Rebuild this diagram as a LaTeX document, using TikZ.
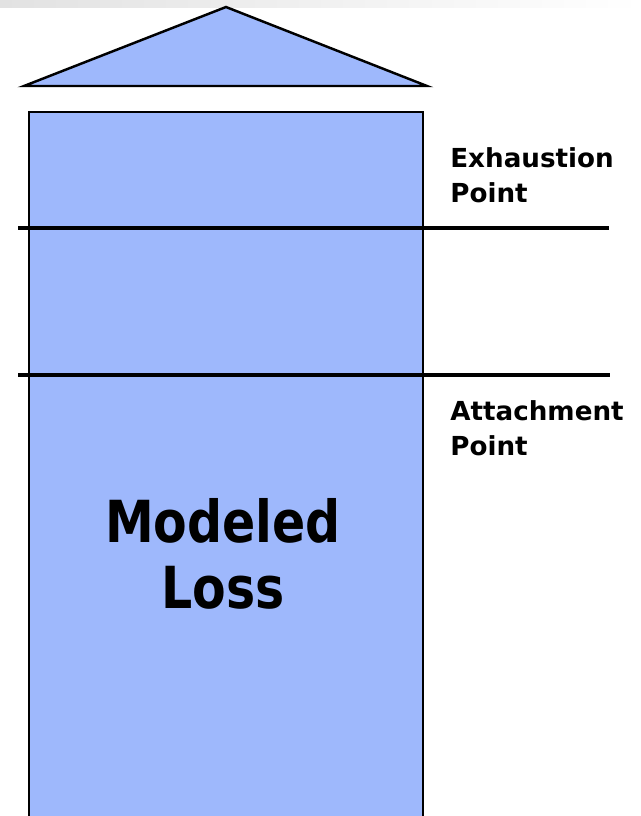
\documentclass[tikz,border=0pt]{standalone}
\usepackage{fontspec}
\setmainfont{DejaVu Sans}
\newfontfamily\narrowfont[FakeStretch=0.845]{DejaVu Sans}
\usetikzlibrary{positioning}
\definecolor{layerblue}{HTML}{9EB8FC}
\definecolor{headgray}{HTML}{E2E2E2}

\begin{document}
\begin{tikzpicture}[
    x=0.02cm, y=-0.02cm,
    layer/.style={fill=layerblue, draw=black, line width=1.4pt},
    level/.style={draw=black, line width=2.6pt},
    side/.style={anchor=base west, align=left, inner sep=0pt,
        font=\fontsize{14.9}{19.8}\selectfont\bfseries},
    big/.style={anchor=base, align=center, inner sep=0pt,
        font=\narrowfont\fontsize{33}{37.4}\selectfont\bfseries}
]
    \useasboundingbox (0,0) rectangle (641,816);
    \clip (0,0) rectangle (641,816);

    % header strip
    \shade[left color=headgray, right color=white] (0,0) rectangle (641,7);

    % roof and tower
    \draw[layer, line join=miter] (24,86) -- (226,7) -- (427,86) -- cycle;
    \draw[layer] (29,830) -- (29,112) -- (423,112) -- (423,830);

    % attachment and exhaustion levels
    \draw[level] (18,228) -- (609,228);
    \draw[level] (18,375) -- (610,375);

    % labels (anchored on the last baseline)
    \node[side] (exhaust) at (450,202) {Exhaustion\\Point};
    \node[side] (attach) at (450,455) {Attachment\\Point};
    \node[big] (loss) at (223,608) {Modeled\\Loss};
\end{tikzpicture}
\end{document}
